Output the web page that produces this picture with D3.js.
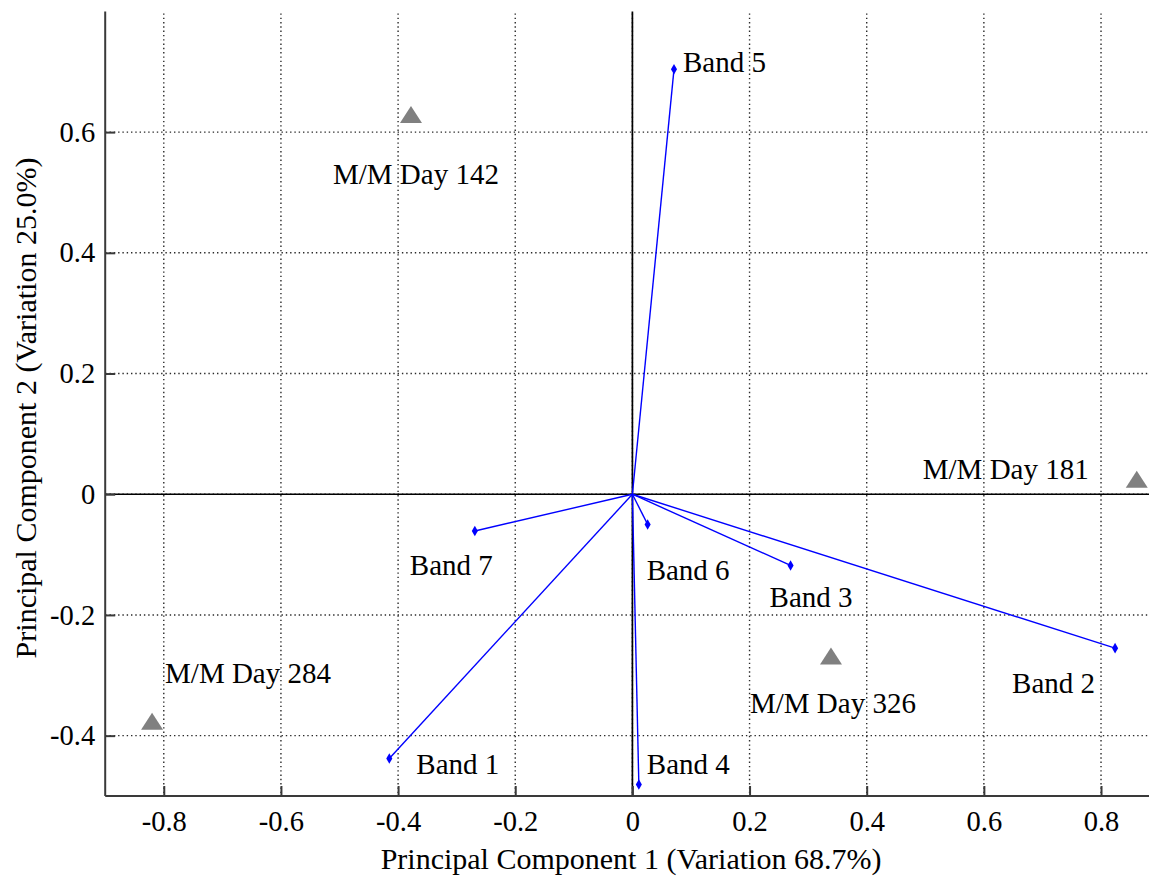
<!DOCTYPE html>
<html>
<head>
<meta charset="utf-8">
<script src="https://cdn.jsdelivr.net/npm/d3@7"></script>
<style>
  html, body { margin: 0; padding: 0; background: #fff; }
  svg { display: block; }
  text { font-family: "Liberation Serif", "Times New Roman", serif; fill: #000; }
</style>
</head>
<body>
<svg id="chart" width="1149" height="879"></svg>
<script>
// PCA biplot: band loadings (blue vectors) and site scores (grey triangles)
const bandNames = ["Band 1", "Band 2", "Band 3", "Band 4", "Band 5", "Band 6", "Band 7"];
const bandPC1   = [-0.415, 0.824, 0.270, 0.011, 0.071, 0.026, -0.269];
const bandPC2   = [-0.438, -0.255, -0.118, -0.481, 0.704, -0.050, -0.061];

const siteNames = ["M/M Day 142", "M/M Day 181", "M/M Day 284", "M/M Day 326"];
const sitePC1   = [-0.378, 0.861, -0.820, 0.339];
const sitePC2   = [0.629, 0.025, -0.376, -0.268];

const xTicks = [-0.8, -0.6, -0.4, -0.2, 0, 0.2, 0.4, 0.6, 0.8];
const yTicks = [-0.4, -0.2, 0, 0.2, 0.4, 0.6];

const xTitle = "Principal Component 1 (Variation 68.7%)";
const yTitle = "Principal Component 2 (Variation 25.0%)";

// label placement relative to each mark, in pixels (dx to text start, dy to baseline)
const labelOffset = {
  "Band 1": [27, 15], "Band 2": [-103, 45], "Band 3": [-21, 42], "Band 4": [8, -11],
  "Band 5": [9, 3], "Band 6": [-1, 56], "Band 7": [-65, 44],
  "M/M Day 142": [-78, 69], "M/M Day 181": [-214, 0],
  "M/M Day 284": [13, -38], "M/M Day 326": [-81, 57]
};

(function () {
  const svg = d3.select("#chart");

  const x = d3.scaleLinear().domain([-0.9, 0.9]).range([105.2, 1159.6]);
  const y = d3.scaleLinear().domain([-0.5, 0.8]).range([796, 11.4]);

  const plotL = x(-0.9), plotB = y(-0.5), plotT = y(0.8), plotR = x(0.9);

  // dotted grid
  const grid = svg.append("g")
    .attr("stroke", "#2a2a2a").attr("stroke-width", 1.4).attr("stroke-dasharray", "1.4,2.9");
  grid.selectAll("line.gx").data(xTicks).join("line")
    .attr("x1", d => x(d)).attr("x2", d => x(d))
    .attr("y1", plotT + 2).attr("y2", plotB);
  grid.selectAll("line.gy").data(yTicks).join("line")
    .attr("x1", plotL).attr("x2", plotR)
    .attr("y1", d => y(d)).attr("y2", d => y(d));

  // zero lines
  svg.append("line").attr("x1", plotL).attr("x2", plotR).attr("y1", y(0)).attr("y2", y(0))
    .attr("stroke", "#000").attr("stroke-width", 1.7);
  svg.append("line").attr("x1", x(0)).attr("x2", x(0)).attr("y1", plotT).attr("y2", plotB)
    .attr("stroke", "#000").attr("stroke-width", 1.7);

  // axes
  const fmt = d => d === 0 ? "0" : String(d);
  const xAxis = d3.axisBottom(x).tickValues(xTicks).tickFormat(fmt).tickSizeInner(-10).tickSizeOuter(0).tickPadding(15);
  const yAxis = d3.axisLeft(y).tickValues(yTicks).tickFormat(fmt).tickSizeInner(-10).tickSizeOuter(0).tickPadding(10);

  const gx = svg.append("g").attr("transform", `translate(0,${plotB})`).call(xAxis);
  const gy = svg.append("g").attr("transform", `translate(${plotL},0)`).call(yAxis);
  [gx, gy].forEach(g => {
    g.select(".domain").attr("stroke", "#3a3a3a").attr("stroke-width", 2);
    g.selectAll(".tick line").attr("stroke", "#3a3a3a").attr("stroke-width", 2);
    g.selectAll(".tick text").attr("font-family", "Liberation Serif, Times New Roman, serif")
      .attr("font-size", 28.5).attr("fill", "#000");
  });
  gx.select(".domain").attr("d", `M${plotL},0H${1149}`);
  gy.select(".domain").attr("d", `M0,${plotT}V${plotB}`);

  // band loading vectors
  const bands = bandNames.map((n, i) => ({ name: n, px: bandPC1[i], py: bandPC2[i] }));
  svg.append("g").selectAll("line").data(bands).join("line")
    .attr("x1", x(0)).attr("y1", y(0))
    .attr("x2", d => x(d.px)).attr("y2", d => y(d.py))
    .attr("stroke", "#0000ff").attr("stroke-width", 1.4);
  svg.append("g").selectAll("path").data(bands).join("path")
    .attr("d", d3.symbol(d3.symbolDiamond, 32))
    .attr("transform", d => `translate(${x(d.px)},${y(d.py)})`)
    .attr("fill", "#0000ff");

  // site scores
  const sites = siteNames.map((n, i) => ({ name: n, px: sitePC1[i], py: sitePC2[i] }));
  const tw = 22, th = 17;
  svg.append("g").selectAll("path").data(sites).join("path")
    .attr("d", d => {
      const cx = x(d.px), cy = y(d.py);
      return `M${cx},${cy - th / 2}L${cx + tw / 2},${cy + th / 2}L${cx - tw / 2},${cy + th / 2}Z`;
    })
    .attr("fill", "#808080");

  // annotations
  const labelled = bands.concat(sites);
  svg.append("g").selectAll("text").data(labelled).join("text")
    .attr("x", d => x(d.px) + labelOffset[d.name][0])
    .attr("y", d => y(d.py) + labelOffset[d.name][1])
    .attr("font-size", 29)
    .text(d => d.name);

  // axis titles
  svg.append("text").attr("x", 631).attr("y", 869).attr("text-anchor", "middle")
    .attr("font-size", 30).text(xTitle);
  svg.append("text").attr("transform", "translate(36,408) rotate(-90)").attr("text-anchor", "middle")
    .attr("font-size", 30).text(yTitle);
})();
</script>
</body>
</html>
